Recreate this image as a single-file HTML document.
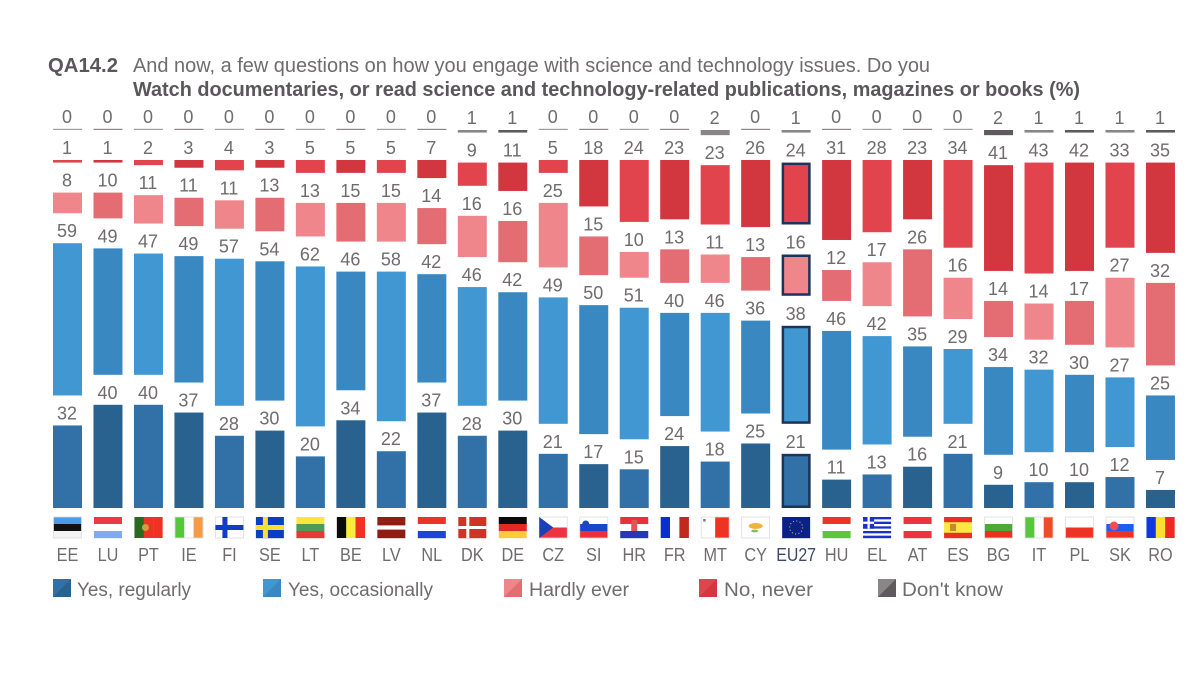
<!DOCTYPE html>
<html lang="en">
<head>
<meta charset="utf-8">
<title>QA14.2 Science and technology engagement</title>
<style>
html,body{margin:0;padding:0;background:#fff;width:1200px;height:692px;overflow:hidden}
svg{display:block;font-family:"Liberation Sans",sans-serif}
.val{font-size:18px;fill:#6f6b6e;text-anchor:middle}
.leg{font-size:19px;fill:#6f6b6e}
</style>
</head>
<body>
<svg id="chart" width="1200" height="692" viewBox="0 0 1200 692" xmlns="http://www.w3.org/2000/svg">
  <rect width="1200" height="692" fill="#ffffff"/>
  <text x="48" y="72" font-size="20" font-weight="700" fill="#5a575a" textLength="70" lengthAdjust="spacingAndGlyphs">QA14.2</text>
  <text x="133" y="72" font-size="20" fill="#6f6b6e" textLength="797" lengthAdjust="spacingAndGlyphs">And now, a few questions on how you engage with science and technology issues. Do you</text>
  <text x="133" y="96" font-size="20" font-weight="700" fill="#5a575a" textLength="947" lengthAdjust="spacingAndGlyphs">Watch documentaries, or read science and technology-related publications, magazines or books  (%)</text>
  <g id="bars"></g>
  <g id="flags"></g>
  <g id="countries"></g>
  <g>
    <g>
      <rect x="53" y="579" width="18" height="18" fill="#3171a8"/><polygon points="71,579 71,597 53,597" fill="#29618f"/>
      <text class="leg" x="77" y="596" textLength="114" lengthAdjust="spacingAndGlyphs">Yes, regularly</text>
    </g>
    <g>
      <rect x="263" y="579" width="18" height="18" fill="#4097d1"/><polygon points="281,579 281,597 263,597" fill="#3a88c1"/>
      <text class="leg" x="288" y="596" textLength="145" lengthAdjust="spacingAndGlyphs">Yes, occasionally</text>
    </g>
    <g>
      <rect x="504" y="579" width="18" height="18" fill="#ee868c"/><polygon points="522,579 522,597 504,597" fill="#e46d74"/>
      <text class="leg" x="529" y="596" textLength="100" lengthAdjust="spacingAndGlyphs">Hardly ever</text>
    </g>
    <g>
      <rect x="699" y="579" width="18" height="18" fill="#e2444e"/><polygon points="717,579 717,597 699,597" fill="#d2363f"/>
      <text class="leg" x="724" y="596" textLength="89" lengthAdjust="spacingAndGlyphs">No, never</text>
    </g>
    <g>
      <rect x="878" y="579" width="18" height="18" fill="#8a8587"/><polygon points="896,579 896,597 878,597" fill="#5f5a5e"/>
      <text class="leg" x="902" y="596" textLength="101" lengthAdjust="spacingAndGlyphs">Don't know</text>
    </g>
  </g>
</svg>
<script>
var countries = ["EE","LU","PT","IE","FI","SE","LT","BE","LV","NL","DK","DE","CZ","SI","HR","FR","MT","CY","EU27","HU","EL","AT","ES","BG","IT","PL","SK","RO"];
var yesRegularly = [32,40,40,37,28,30,20,34,22,37,28,30,21,17,15,24,18,25,21,11,13,16,21,9,10,10,12,7];
var yesOccasionally = [59,49,47,49,57,54,62,46,58,42,46,42,49,50,51,40,46,36,38,46,42,35,29,34,32,30,27,25];
var hardlyEver = [8,10,11,11,11,13,13,15,15,14,16,16,25,15,10,13,11,13,16,12,17,26,16,14,14,17,27,32];
var noNever = [1,1,2,3,4,3,5,5,5,7,9,11,5,18,24,23,23,26,24,31,28,23,34,41,43,42,33,35];
var dontKnow = [0,0,0,0,0,0,0,0,0,0,1,1,0,0,0,0,2,0,1,0,0,0,0,2,1,1,1,1];

var seriesList = [yesRegularly, yesOccasionally, hardlyEver, noNever, dontKnow];
var seriesKeys = ["yes-regularly","yes-occasionally","hardly-ever","no-never","dont-know"];
var lightShades = ["#3171a8","#4097d1","#ee868c","#e2444e","#8a8587"];
var darkShades = ["#29618f","#3a88c1","#e46d74","#d2363f","#5f5a5e"];

var NS = "http://www.w3.org/2000/svg";
var BASE_Y = 508, UNIT = 2.58, GAP = 30, BAR_W = 29, LEFT = 53, PITCH = 40.48;
function xPos(i){ return LEFT + i * PITCH; }
function barH(v){ return v * UNIT; }
function mk(tag, attrs, parent){
  var el = document.createElementNS(NS, tag);
  for (var k in attrs) el.setAttribute(k, attrs[k]);
  parent.appendChild(el);
  return el;
}

var barsG = document.getElementById("bars");
countries.forEach(function(code, i){
  var y = BASE_Y;
  var col = mk("g", {}, barsG);
  
  
  seriesList.forEach(function(series, s){
    var v = series[i];
    var h = Math.max(barH(v), 1.2);
    var top = y - barH(v);
    var fill = (i % 2 === 0) ? lightShades[s] : darkShades[s];
    if (v === 0) fill = (i % 2 === 0) ? "#a09c9e" : "#8a8688";
    var isEU = code === "EU27" && s < 4;
    var bar = mk("rect", {
      x: xPos(i) + (isEU ? 1.25 : 0),
      y: v === 0 ? top - 1.2 : top + (isEU ? 1.25 : 0),
      width: BAR_W - (isEU ? 2.5 : 0),
      height: h - (isEU ? 2.5 : 0),
      fill: fill
    }, col);
    
    
    if (isEU) { bar.setAttribute("stroke", "#1d3458"); bar.setAttribute("stroke-width", "2.5"); }
    var label = mk("text", {"class":"val", x: xPos(i) + BAR_W / 2 - 0.5, y: top - (v === 0 ? 7 : 6)}, col);
    
    
    label.textContent = v;
    y = top - GAP;
  });
});

var axisG = document.getElementById("countries");
countries.forEach(function(code, i){
  var t = mk("text", {
    transform: "translate(" + (xPos(i) + BAR_W / 2) + ",561) scale(" + (code === "EU27" ? 0.86 : 0.88) + ",1)",
    "text-anchor": "middle",
    "font-size": 18.5,
    fill: code === "EU27" ? "#3c4a66" : "#6f6b6e"
  }, axisG);
  
  
  t.textContent = code;
});

var flagStripes = {
  EE:["h","#4a9be8","#111111","#f4f4f4"], LU:["h","#ec3a42","#ffffff","#7fabf2"], PT:["v","#2a6a20","#ee3224","#ee3224"],
  IE:["v","#58c63a","#ffffff","#f49a48"], FI:["h","#ffffff"], SE:["h","#0a3fc4"], LT:["h","#fce53f","#4f9a58","#e23a36"],
  BE:["v","#0b0b0b","#fcec3a","#ee3224"], LV:["h","#8f1d14","#8f1d14","#ffffff","#8f1d14","#8f1d14"], NL:["h","#ee3224","#ffffff","#1c44d8"],
  DK:["h","#cf3328"], DE:["h","#0b0b0b","#e22a20","#fbcb3a"], CZ:["h","#ffffff","#ea3442"], SI:["h","#ffffff","#1947c9","#ea3038"],
  HR:["h","#ea3038","#ffffff","#2438b8"], FR:["v","#0f2ccf","#ffffff","#bf2a1c"], MT:["v","#ffffff","#ee3224"], CY:["h","#ffffff"],
  EU27:["h","#0c2188"], HU:["h","#ee3224","#ffffff","#5ec63e"], EL:["h","#1c2fc6","#ffffff","#1c2fc6","#ffffff","#1c2fc6","#ffffff","#1c2fc6","#ffffff","#1c2fc6"],
  AT:["h","#ee3240","#ffffff","#ee3240"], ES:["h","#e8321f","#fce83f","#fce83f","#e8321f"], BG:["h","#ffffff","#4ea838","#e8321f"],
  IT:["v","#58c63a","#ffffff","#ee4b26"], PL:["h","#ffffff","#ee3224"], SK:["h","#ffffff","#1f5cf0","#ee3224"], RO:["v","#1238e0","#fce02f","#ee2a20"]
};
var flagsG = document.getElementById("flags");
function part(g, tag, attrs){ return mk(tag, attrs, g); }
countries.forEach(function(code, i){
  var fx = xPos(i) + 0.5, fy = 517, fw = 28, fh = 21;
  var g = mk("g", {}, flagsG);
  
  
  var spec = flagStripes[code];
  var dir = spec[0], cols = spec.slice(1);
  cols.forEach(function(c, n){
    if (dir === "h") part(g, "rect", {x:fx, y:fy + n * fh / cols.length, width:fw, height:fh / cols.length + 0.2, fill:c});
    else part(g, "rect", {x:fx + n * fw / cols.length, y:fy, width:fw / cols.length + 0.2, height:fh, fill:c});
  });
  function r(a,b,w,h,c){ part(g, "rect", {x:fx + a, y:fy + b, width:w, height:h, fill:c}); }
  if (["EE","FI","MT","CY","SI","SK","BG","PL","CZ","IT","IE"].indexOf(code) >= 0)
    part(g, "rect", {x:fx, y:fy, width:fw, height:fh, fill:"none", stroke:"#dedcdc", "stroke-width":0.8});
  if (code === "FI") { r(0,8,fw,5,"#0f3cc8"); r(7,0,5,fh,"#0f3cc8"); }
  if (code === "SE") { r(0,8,fw,5,"#fce02f"); r(7,0,5,fh,"#fce02f"); }
  if (code === "DK") { r(0,9,fw,3,"#ffffff"); r(8,0,3,fh,"#ffffff"); }
  if (code === "PT") { part(g, "circle", {cx:fx + 11, cy:fy + 10.5, r:3.5, fill:"#c9a23a"}); }
  if (code === "CZ") { part(g, "polygon", {points:fx + "," + fy + " " + (fx + 14) + "," + (fy + 10.5) + " " + fx + "," + (fy + fh), fill:"#1a3fb8"}); }
  if (code === "SI") { part(g, "circle", {cx:fx + 6, cy:fy + 7, r:3.5, fill:"#1947c9"}); }
  if (code === "HR") { r(11,3,6,11,"#e4525a"); }
  if (code === "MT") { r(2,2,2.5,2.5,"#777777"); }
  if (code === "CY") { part(g, "ellipse", {cx:fx + 14, cy:fy + 9, rx:7, ry:3, fill:"#eeb53a"}); part(g, "ellipse", {cx:fx + 13, cy:fy + 14, rx:3.5, ry:1.4, fill:"#8fb55e"}); }
  if (code === "EU27") { part(g, "circle", {cx:fx + 14, cy:fy + 10.5, r:6.5, fill:"none", stroke:"#e8d04a", "stroke-width":1, "stroke-dasharray":"1 2.4"}); }
  if (code === "EL") { r(0,0,11,11.7,"#1c2fc6"); r(0,4.6,11,2.3,"#ffffff"); r(4.4,0,2.3,11.7,"#ffffff"); }
  if (code === "ES") { r(6,7,6,7,"#c98a2a"); }
  if (code === "SK") { part(g, "circle", {cx:fx + 8, cy:fy + 9, r:4.5, fill:"#e8505a"}); }
});
</script>
</body>
</html>
